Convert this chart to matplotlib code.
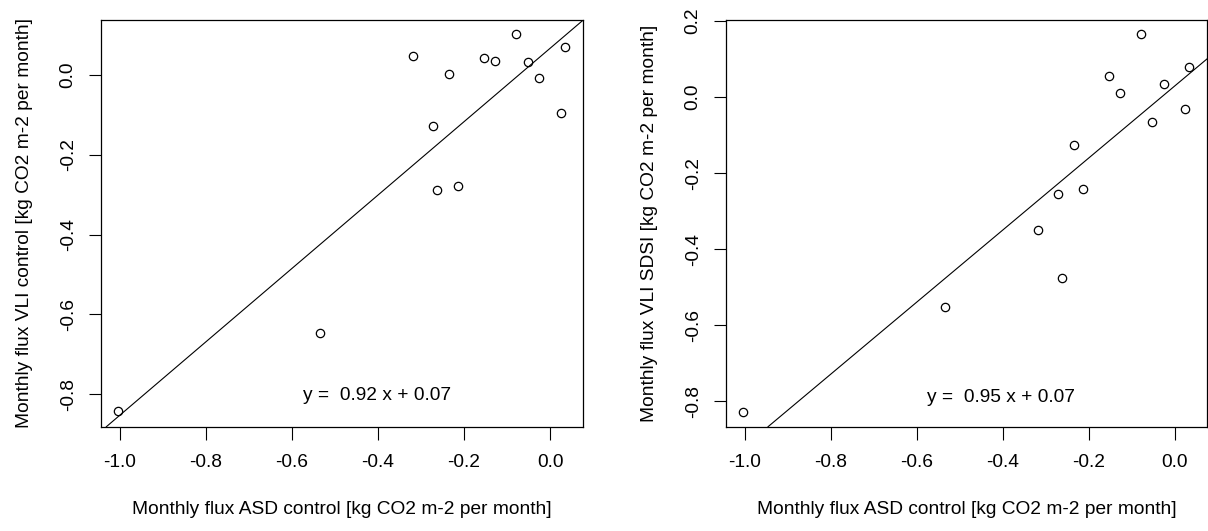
"""两组月通量散点对比图（ASD control vs VLI control / VLI SDSI）。"""

import matplotlib

matplotlib.use("Agg")
import matplotlib.pyplot as plt

# x 轴：两幅图共用同一组 ASD control 数据
asd_control = [-1.005, -0.534, -0.318, -0.272, -0.263, -0.235, -0.213,
               -0.153, -0.128, -0.079, -0.052, -0.025, 0.025, 0.034]

# 左图 y：VLI control
vli_control = [-0.843, -0.646, 0.049, -0.129, -0.288, 0.003, -0.278,
               0.043, 0.036, 0.102, 0.033, -0.007, -0.095, 0.070]

# 右图 y：VLI SDSI
vli_sdsi = [-0.827, -0.553, -0.349, -0.255, -0.476, -0.127, -0.242,
            0.055, 0.010, 0.166, -0.066, 0.034, -0.031, 0.080]

# 回归线（图上画出来的那条）和标注文字
fit_left = (0.92, 0.067)
fit_right = (0.947, 0.029)
label_left = "y =  0.92 x + 0.07"
label_right = "y =  0.95 x + 0.07"

xticks = [-1.0, -0.8, -0.6, -0.4, -0.2, 0.0]
yticks_left = [-0.8, -0.6, -0.4, -0.2, 0.0]
yticks_right = [-0.8, -0.6, -0.4, -0.2, 0.0, 0.2]

xlabel = "Monthly flux ASD control [kg CO2 m-2 per month]"
ylabel_left = "Monthly flux VLI control [kg CO2 m-2 per month]"
ylabel_right = "Monthly flux VLI SDSI [kg CO2 m-2 per month]"

plt.rcParams["font.family"] = ["Liberation Sans", "DejaVu Sans"]
plt.rcParams["axes.unicode_minus"] = False

FS = 13.8


def draw_panel(ax, x, y, fit, label, yticks, ylabel, ylim):
    ax.plot(x, y, "o", mfc="none", mec="black", ms=6.0, mew=0.9, ls="none")
    slope, icpt = fit
    ax.axline((0.0, icpt), slope=slope, color="black", lw=0.8)
    ax.text(-0.403, ylim[0] + 0.078, label, ha="center", va="center", fontsize=FS)

    ax.set_xlim(-1.044, 0.076)
    ax.set_ylim(*ylim)
    ax.set_xticks(xticks)
    ax.set_xticklabels([f"{v:.1f}" for v in xticks])
    ax.set_yticks(yticks)
    ax.set_yticklabels([f"{v:.1f}" for v in yticks], rotation=90, va="center")
    ax.tick_params(labelsize=FS, length=9, width=0.8)
    ax.tick_params(axis="x", pad=11)
    ax.tick_params(axis="y", pad=8.5)
    for sp in ax.spines.values():
        sp.set_linewidth(0.9)
    ax.set_xlabel(xlabel, fontsize=FS, labelpad=21)
    ax.set_ylabel(ylabel, fontsize=FS, labelpad=19)


fig = plt.figure(figsize=(12.08, 5.31), dpi=100)
ax1 = fig.add_axes([0.0836, 0.1964, 0.3988, 0.7659])
ax2 = fig.add_axes([0.6010, 0.1964, 0.3983, 0.7659])

draw_panel(ax1, asd_control, vli_control, fit_left, label_left,
           yticks_left, ylabel_left, (-0.882, 0.138))
draw_panel(ax2, asd_control, vli_sdsi, fit_right, label_right,
           yticks_right, ylabel_right, (-0.867, 0.203))

fig.savefig("out.png", dpi=100)
